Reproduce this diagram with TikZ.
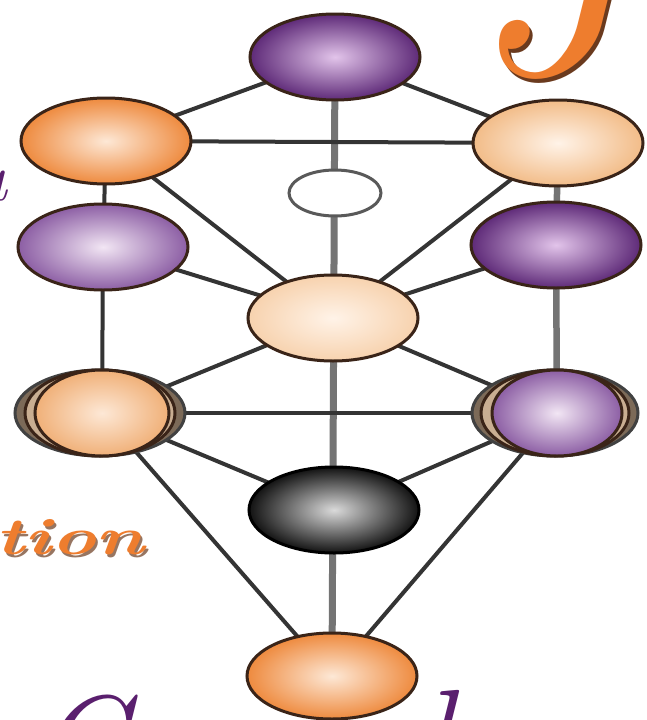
\documentclass[tikz,border=0pt]{standalone}
\usetikzlibrary{shapes.geometric,backgrounds}
\definecolor{edgec}{HTML}{3A2418}
\definecolor{linedark}{HTML}{343434}
\definecolor{linegray}{HTML}{747474}
\definecolor{txtorange}{HTML}{EE7D2E}
\definecolor{txtshadow}{HTML}{6A3A1E}
\definecolor{txtpurple}{HTML}{5A1F6E}
\definecolor{HTML-E2C4EA}{HTML}{E2C4EA}
\definecolor{HTML-5E2A78}{HTML}{5E2A78}
\definecolor{HTML-F2E6F4}{HTML}{F2E6F4}
\definecolor{HTML-8C5EA4}{HTML}{8C5EA4}
\definecolor{HTML-FDE8D6}{HTML}{FDE8D6}
\definecolor{HTML-EE8A3E}{HTML}{EE8A3E}
\definecolor{HTML-FFF3E8}{HTML}{FFF3E8}
\definecolor{HTML-F2BC88}{HTML}{F2BC88}
\definecolor{HTML-DADADA}{HTML}{DADADA}
\definecolor{HTML-121212}{HTML}{121212}
\definecolor{HTML-F7D2AE}{HTML}{F7D2AE}
\definecolor{HTML-F0B078}{HTML}{F0B078}
\definecolor{ringbrown}{HTML}{7C6A58}
\definecolor{ringlight}{HTML}{C9AE92}
\tikzset{
  sephira/.style={ellipse, draw=edgec, line width=3pt, minimum width=170pt, minimum height=86pt, inner sep=0pt},
  purpledark/.style={sephira, inner color=HTML-E2C4EA, outer color=HTML-5E2A78},
  purplelight/.style={sephira, inner color=HTML-F2E6F4, outer color=HTML-8C5EA4},
  orangedeep/.style={sephira, inner color=HTML-FDE8D6, outer color=HTML-EE8A3E},
  peach/.style={sephira, inner color=HTML-FFF3E8, outer color=HTML-F2BC88},
  blackball/.style={sephira, draw=black, inner color=HTML-DADADA, outer color=HTML-121212},
  thinpath/.style={draw=linedark, line width=4pt},
  graypath/.style={draw=linegray, line width=6.5pt},
}
\begin{document}
\begin{tikzpicture}[x=1pt,y=-1pt]
\useasboundingbox (0,0) rectangle (646,720);
% text fragments (clipped)
\begin{scope}
\clip (0,0) rectangle (646,720);
\node[anchor=base west, inner sep=0pt, text=txtshadow] (jshadow) at (469,76) {\fontsize{330}{330}\selectfont\itshape J};
\node[anchor=base west, inner sep=0pt, text=txtorange] (jletter) at (466,72) {\fontsize{330}{330}\selectfont\itshape J};
\node[anchor=base east, inner sep=0pt, text=txtpurple] (aletter) at (8,200) {\fontsize{70}{70}\selectfont\itshape a};
\node[anchor=base east, inner sep=0pt, text=txtshadow!70] (tionshadow) at (147,557) {\scalebox{1.45}[1]{\fontsize{52}{52}\selectfont\bfseries\itshape tion}};
\node[anchor=base east, inner sep=0pt, text=txtorange] (tion) at (145,554) {\scalebox{1.45}[1]{\fontsize{52}{52}\selectfont\bfseries\itshape tion}};
\node[anchor=base west, inner sep=0pt, text=txtpurple] (cletter) at (34,786) {\fontsize{130}{130}\selectfont\itshape C};
\node[anchor=base west, inner sep=0pt, text=txtpurple] (lletter) at (420,780) {\fontsize{130}{130}\selectfont\itshape l};
\end{scope}
% sephirot
\node[purpledark] (keter) at (335,57) {};
\node[orangedeep] (binah) at (106,141) {};
\node[peach] (chokmah) at (558,143) {};
\node[ellipse, draw=HTML-121212!70, fill=white, line width=3pt, minimum width=92pt, minimum height=46pt, inner sep=0pt] (daat) at (335,193) {};
\node[purplelight] (gevurah) at (103,247) {};
\node[purpledark] (chesed) at (556,245) {};
\node[sephira, inner color=HTML-FFF3E8, outer color=HTML-F7D2AE] (tiferet) at (333,318) {};
\node[sephira, fill=ringbrown, draw=HTML-121212!80] (hodouter) at (100,413) {};
\node[sephira, fill=ringlight, minimum width=150pt] (hodmid) at (100,413) {};
\node[sephira, inner color=HTML-FDE8D6, outer color=HTML-F0B078, minimum width=134pt] (hod) at (102,413) {};
\node[sephira, fill=ringbrown, draw=HTML-121212!80, minimum width=166pt] (netzachouter) at (555,413) {};
\node[sephira, fill=ringlight, minimum width=148pt] (netzachmid) at (555,413) {};
\node[sephira, inner color=HTML-F2E6F4, outer color=HTML-8C5EA4, minimum width=130pt] (netzach) at (557,413) {};
\node[blackball] (yesod) at (334,510) {};
\node[orangedeep] (malkuth) at (332,676) {};
% paths
\begin{pgfonlayer}{background}
\fill[white] (0,0) rectangle (646,720);
\draw[graypath, line width=7pt] (keter.center) -- (malkuth.center);
\draw[thinpath] (keter.center) -- (binah.center);
\draw[thinpath] (keter.center) -- (chokmah.center);
\draw[thinpath] (binah.center) -- (chokmah.center);
\draw[thinpath] (binah.center) -- (gevurah.center);
\draw[graypath] (chokmah.center) -- (chesed.center);
\draw[thinpath] (binah.center) -- (tiferet.center);
\draw[thinpath] (chokmah.center) -- (tiferet.center);
\draw[thinpath] (gevurah.center) -- (tiferet.center);
\draw[thinpath] (chesed.center) -- (tiferet.center);
\draw[thinpath] (gevurah.center) -- (hod.center);
\draw[graypath] (chesed.center) -- (netzach.center);
\draw[thinpath] (tiferet.center) -- (hod.center);
\draw[thinpath] (tiferet.center) -- (netzach.center);
\draw[thinpath] (hod.center) -- (netzach.center);
\draw[thinpath] (hod.center) -- (yesod.center);
\draw[thinpath] (netzach.center) -- (yesod.center);
\draw[thinpath] (hod.center) -- (malkuth.center);
\draw[thinpath] (netzach.center) -- (malkuth.center);
\end{pgfonlayer}
\end{tikzpicture}
\end{document}
